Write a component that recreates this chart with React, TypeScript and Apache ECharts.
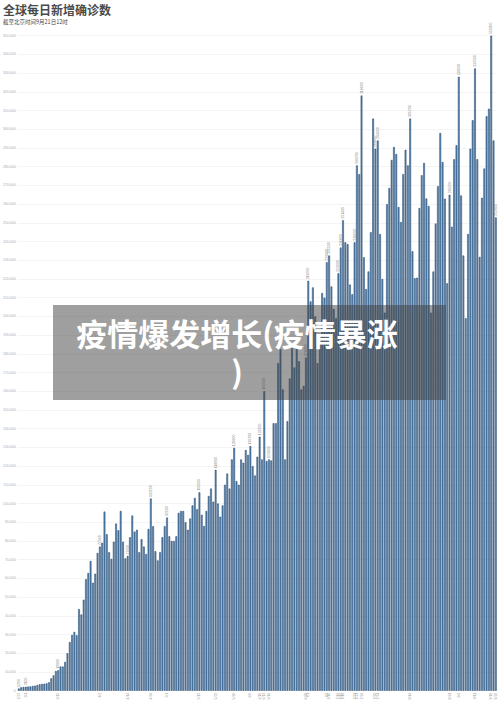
import { useRef, useEffect } from "react";
import * as echarts from "echarts";

// 日新增（千例），按时间分段读取
const marchCases = [
    1.2, 1.8, 2.0, 2.1, 2.2, 2.3, 2.5, 2.7, 3.0, 3.4, 3.6, 3.7, 3.9, 4.5,
    6.6, 8.2, 10.5, 10.9, 12.9, 12.9, 15.4, 20.0, 26.0, 29.8, 31.4, 29.6, 43.6, 40.7, 48.6,
];
const aprilCases = [
    59.6, 62.9, 69.3, 57.7, 62.5, 73.6, 77.0, 79.0, 95.7, 83.6, 74.0, 70.4, 79.6, 89.3,
    85.7, 96.0, 79.6, 70.7, 72.0, 82.0, 93.6, 85.0, 86.0, 74.0, 81.0, 77.0, 73.0, 86.4,
    102.7, 87.9, 74.5, 69.6, 74.0, 82.0, 87.9, 92.5, 82.5, 80.0, 80.0, 82.5, 95.0, 96.0,
];
const mayCases = [
    96, 90, 86, 92, 99, 103, 97, 106, 94, 88, 96, 104, 108, 101, 118, 100, 93, 99, 110, 116, 108,
];
const juneCases = [
    123.6, 129.8, 112, 110, 123.6, 121.8, 128.6, 126, 130.7, 120,
    115, 125, 135.7, 123.6, 160, 122.7, 123.6, 123, 142.9, 142.9,
    175, 182.5, 161, 123.6, 144, 166.8, 183, 172.7, 184, 176,
    161, 162.9, 178, 219, 208, 215.5, 200, 175, 186, 212.5,
    210, 229, 232.5,
];
const summerCases = [
    216, 204, 199, 223, 236.8, 251.4, 239.6, 238.6, 217, 211.8,
    239.6, 280.7, 276, 318, 231.6, 214.6, 224, 245, 305.7, 289.6,
    294, 244, 220, 202, 260, 268.6, 283.6, 290.5, 286.8, 258.4,
    250.4, 276, 289, 280.7, 305.7, 234.8, 220.4, 220.7, 257.9, 275.4,
    282, 263, 259, 202, 224, 249.6, 269.6, 298, 282.5, 262.9,
    217.7, 265, 247.9, 284, 291.4, 328, 264.6, 232.5, 199, 244,
    289.6, 304.8, 332.5, 284, 231.8, 263.4, 279, 307, 311, 350,
    294, 252.9,
];
// 带数值标注的日期序号
const labeledDays = [
    0, 3, 17, 35, 47, 57, 64, 78, 85, 93, 100, 104, 106, 108, 124, 125, 133, 134,
    138, 139, 140, 145, 146, 148, 154, 155, 169, 186, 190, 197, 204, 206,
];
const START_MONTH = 2;
const START_DAY = 27;
const DAYS_IN_MONTH = [31, 29, 31, 30, 31, 30, 31, 31, 30, 31, 30, 31];

const dailyCases = [...marchCases, ...aprilCases, ...mayCases, ...juneCases, ...summerCases].map(
    (v) => Math.round(v * 1000)
);

function buildDates(n: number) {
    const out: string[] = [];
    let m = START_MONTH;
    let d = START_DAY;
    for (let i = 0; i < n; i++) {
        out.push(`${m}/${d}`);
        d++;
        if (d > DAYS_IN_MONTH[m - 1]) {
            d = 1;
            m++;
        }
    }
    return out;
}

const dates = buildDates(dailyCases.length);

function App() {
    const chartRef = useRef<HTMLDivElement | null>(null);

    useEffect(() => {
        if (!chartRef.current) return;
        const chart = echarts.init(chartRef.current, undefined, { renderer: "svg" });

        chart.setOption({
            animation: false,
            backgroundColor: "#fff",
            title: {
                text: "全球每日新增确诊数",
                subtext: "截至北京时间9月21日12时",
                left: 3,
                top: 3,
                padding: 0,
                itemGap: 4,
                textStyle: {
                    fontSize: 12,
                    fontWeight: "bold",
                    color: "#4a4a4a",
                    fontFamily: "Noto Sans CJK SC",
                },
                subtextStyle: {
                    fontSize: 5.5,
                    color: "#444",
                    fontFamily: "Noto Sans CJK SC",
                },
            },
            grid: { left: 12, right: 3, top: 35.7, bottom: 14.3 },
            xAxis: {
                type: "category",
                data: dates,
                axisTick: { show: false },
                axisLine: { lineStyle: { color: "#ddd", width: 0.5 } },
                axisLabel: {
                    rotate: 90,
                    fontSize: 3.5,
                    color: "#999",
                    margin: 2,
                    interval: (idx: number) => labeledDays.includes(idx),
                },
            },
            yAxis: {
                type: "value",
                min: 0,
                max: 350000,
                interval: 10000,
                axisLabel: { fontSize: 3.5, color: "#aaa", margin: 2 },
                splitLine: { lineStyle: { color: "#ececec", width: 0.6 } },
            },
            series: [
                {
                    type: "bar",
                    barCategoryGap: "26%",
                    data: dailyCases.map((v, i) =>
                        labeledDays.includes(i)
                            ? {
                                  value: v,
                                  label: {
                                      show: true,
                                      position: "top",
                                      rotate: 90,
                                      align: "left",
                                      verticalAlign: "middle",
                                      distance: 1.5,
                                      fontSize: 3.5,
                                      color: "#888",
                                  },
                              }
                            : v
                    ),
                    itemStyle: {
                        color: "#5b8ab6",
                        borderColor: "#1f4068",
                        borderWidth: 0.5,
                    },
                },
            ],
            graphic: [
                {
                    type: "rect",
                    z: 100,
                    shape: { x: 53, y: 305, width: 393, height: 95 },
                    style: { fill: "rgba(64,64,64,0.5)" },
                },
                {
                    type: "text",
                    z: 101,
                    x: 237,
                    y: 313,
                    style: {
                        text: "疫情爆发增长(疫情暴涨\n)",
                        fill: "#fff",
                        fontSize: 31,
                        fontWeight: "bold",
                        fontFamily: "Noto Sans CJK SC",
                        lineHeight: 38,
                        align: "center",
                        verticalAlign: "top",
                    },
                },
            ],
        });

        return () => {
            chart.dispose();
        };
    }, []);

    return (
        <div
            ref={chartRef}
            style={{
                position: "absolute",
                left: 0,
                top: 0,
                width: "500px",
                height: "705px",
                background: "#fff",
            }}
        />
    );
}

export default App;
